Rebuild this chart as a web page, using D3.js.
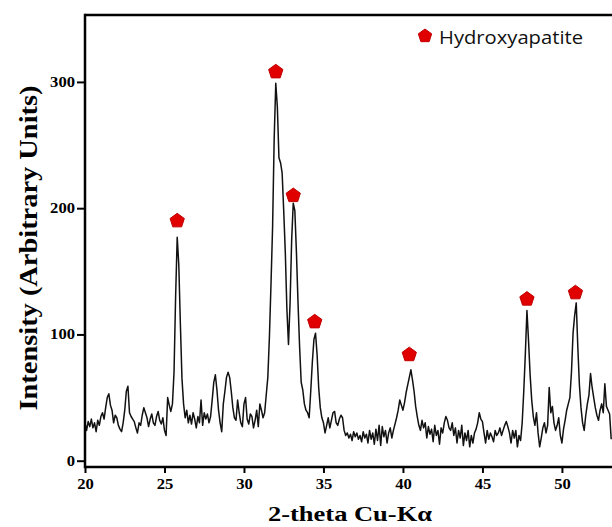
<!DOCTYPE html>
<html>
<head>
<meta charset="utf-8">
<script src="https://cdnjs.cloudflare.com/ajax/libs/d3/7.8.5/d3.min.js"></script>
<style>
  body { margin: 0; background: #fff; }
</style>
</head>
<body>
<div class="canvas"></div>
<script>
//data (2-theta starts at 20, step 0.1)
const thetaStart = 20;
const thetaStep = 0.1;
const intensity = [
    30, 24, 31, 27, 33, 26, 30, 23, 32, 28,
    35, 38, 33, 42, 50, 53, 44, 40, 30, 36,
    34, 28, 25, 23, 30, 40, 55, 59, 38, 35,
    33, 31, 26, 22, 30, 28, 36, 42, 38, 34,
    27, 33, 37, 30, 28, 35, 39, 32, 29, 34,
    24, 20, 50, 44, 39, 45, 70, 130, 177, 155,
    108, 65, 45, 34, 40, 30, 36, 29, 38, 33,
    26, 35, 30, 48, 28, 38, 33, 37, 30, 35,
    48, 62, 68, 56, 40, 30, 23, 45, 55, 66,
    70, 66, 55, 42, 34, 32, 48, 38, 30, 27,
    45, 50, 33, 29, 37, 35, 26, 32, 40, 27,
    45, 40, 34, 38, 52, 66, 98, 140, 185, 255,
    299, 280, 240, 236, 228, 198, 165, 120, 92, 125,
    175, 204, 198, 165, 125, 90, 62, 56, 45, 40,
    38, 34, 55, 78, 96, 101, 84, 58, 42, 34,
    30, 22, 28, 34, 26, 32, 38, 39, 30, 28,
    33, 36, 34, 24, 20, 22, 18, 21, 16, 23,
    19, 22, 17, 20, 15, 23, 18, 21, 14, 24,
    17, 22, 13, 25, 16, 28, 12, 27, 19, 24,
    14, 22, 26, 18, 24, 29, 34, 40, 48, 44,
    40, 46, 54, 60, 66, 72, 64, 55, 43, 35,
    28, 24, 32, 26, 30, 18, 27, 21, 25, 15,
    28, 20, 24, 13, 26, 22, 30, 35, 32, 26,
    24, 30, 20, 26, 14, 24, 18, 28, 12, 22,
    16, 24, 11, 20, 14, 22, 25, 30, 38, 33,
    31, 22, 14, 24, 17, 22, 19, 15, 24, 20,
    22, 26, 20, 24, 28, 31, 27, 22, 14, 24,
    18, 24, 11, 20, 16, 30, 55, 85, 119, 95,
    68, 48, 35, 28, 38, 22, 11, 18, 26, 30,
    22, 28, 58, 38, 43, 30, 24, 28, 34, 20,
    14, 25, 32, 40, 45, 50, 70, 101, 115, 125,
    90, 60, 42, 30, 24, 36, 45, 52, 69, 58,
    50, 42, 36, 32, 40, 45, 38, 61, 43, 40,
    37, 17
];

//hydroxyapatite marks (2-theta, height where the marker sits)
const hapTheta = [25.8, 32.0, 33.1, 34.45, 40.4, 47.8, 50.85];
const hapLevel = [190, 308, 210, 110, 84, 128, 133];

const xTicks = [20, 25, 30, 35, 40, 45, 50];
const yTicks = [0, 100, 200, 300];

//chart dimensions
const dims = {
    width: 612,
    height: 527,
    left: 85,
    right: 612,
    top: 15,
    zero: 460.7,
    axisY: 467
}

const svg = d3.select('.canvas')
    .append('svg')
    .attr('width', dims.width)
    .attr('height', dims.height)
    .style('display', 'block');

const x = d3.scaleLinear()
    .domain([20, 53.15])
    .range([dims.left, dims.right]);

const y = d3.scaleLinear()
    .domain([0, 353])
    .range([dims.zero, dims.top]);

const serif = '"Liberation Serif", "Times New Roman", serif';

//trace
const points = intensity.map((v, i) => ({ t: thetaStart + i * thetaStep, v: v }));

const line = d3.line()
    .x(d => x(d.t))
    .y(d => y(d.v));

svg.append('path')
    .datum(points)
    .attr('d', line)
    .attr('fill', 'none')
    .attr('stroke', '#111')
    .attr('stroke-width', 1.5)
    .attr('stroke-linejoin', 'round');

//pentagon marker path, point up
const pentPath = (r) => {
    const pts = d3.range(5).map(k => {
        const a = -Math.PI / 2 + k * 2 * Math.PI / 5;
        return [r * Math.cos(a), r * Math.sin(a)];
    });
    return 'M' + pts.map(p => p.join(',')).join('L') + 'Z';
}

svg.append('g')
    .selectAll('path')
    .data(hapTheta.map((t, i) => ({ t: t, v: hapLevel[i] })))
    .enter()
    .append('path')
        .attr('d', pentPath(7.5))
        .attr('transform', d => `translate(${x(d.t)}, ${y(d.v)})`)
        .attr('fill', '#e00000')
        .attr('stroke', '#c00000')
        .attr('stroke-width', 1);

//frame: left axis line and top border
svg.append('line')
    .attr('x1', dims.left).attr('x2', dims.right)
    .attr('y1', dims.top).attr('y2', dims.top)
    .attr('stroke', '#000').attr('stroke-width', 2.5);

svg.append('line')
    .attr('x1', dims.left).attr('x2', dims.left)
    .attr('y1', dims.top - 1.2).attr('y2', dims.axisY + 1.2)
    .attr('stroke', '#000').attr('stroke-width', 2.5);

//x axis (offset below zero)
const xAxis = d3.axisBottom(x)
    .tickValues(xTicks)
    .tickSize(6)
    .tickPadding(6)
    .tickFormat(d3.format('d'));

const xAxisGroup = svg.append('g')
    .attr('transform', `translate(0, ${dims.axisY})`)
    .call(xAxis);

xAxisGroup.select('.domain')
    .attr('d', `M${dims.left},0H${dims.right}`)
    .attr('stroke-width', 2.5);

xAxisGroup.selectAll('.tick line').attr('stroke-width', 2);

//labels in the picture are a bit wider than plain Times, stretch them
const styleTicks = (sel) => sel
    .attr('font-family', serif)
    .attr('font-weight', 'bold')
    .attr('font-size', 14)
    .attr('fill', '#000')
    .attr('textLength', function() { return this.textContent.length * 8.3; })
    .attr('lengthAdjust', 'spacingAndGlyphs');

xAxisGroup.selectAll('text').call(styleTicks);

//y axis
const yAxis = d3.axisLeft(y)
    .tickValues(yTicks)
    .tickSize(8)
    .tickPadding(2)
    .tickFormat(d3.format('d'));

const yAxisGroup = svg.append('g')
    .attr('transform', `translate(${dims.left}, 0)`)
    .call(yAxis);

yAxisGroup.select('.domain').remove();
yAxisGroup.selectAll('.tick line').attr('stroke-width', 2);
yAxisGroup.selectAll('text').call(styleTicks);

//axis titles
svg.append('text')
    .attr('x', 350)
    .attr('y', 521)
    .attr('text-anchor', 'middle')
    .attr('font-family', serif)
    .attr('font-weight', 'bold')
    .attr('font-size', 21)
    .attr('textLength', 164)
    .attr('lengthAdjust', 'spacingAndGlyphs')
    .text('2-theta Cu-Kα');

svg.append('text')
    .attr('transform', 'translate(37, 248) rotate(-90)')
    .attr('text-anchor', 'middle')
    .attr('font-family', serif)
    .attr('font-weight', 'bold')
    .attr('font-size', 26)
    .attr('textLength', 325)
    .attr('lengthAdjust', 'spacingAndGlyphs')
    .text('Intensity (Arbitrary Units)');

//legend
const legendGroup = svg.append('g')
    .attr('transform', 'translate(425, 36)');

legendGroup.append('path')
    .attr('d', pentPath(7))
    .attr('fill', '#e00000')
    .attr('stroke', '#c00000')
    .attr('stroke-width', 1);

legendGroup.append('text')
    .attr('x', 14)
    .attr('y', 7.5)
    .attr('font-family', '"Open Sans", "Liberation Sans", sans-serif')
    .attr('font-size', 19)
    .attr('fill', '#111')
    .attr('textLength', 144)
    .attr('lengthAdjust', 'spacingAndGlyphs')
    .text('Hydroxyapatite');
</script>
</body>
</html>
